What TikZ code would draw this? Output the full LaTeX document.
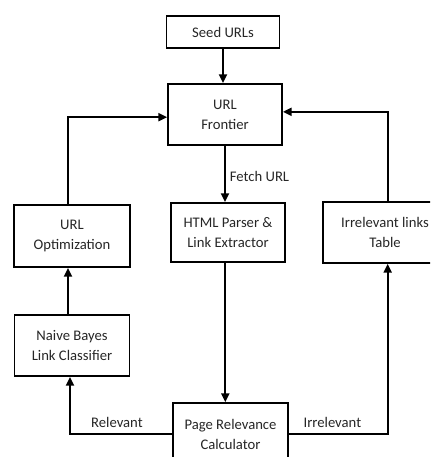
\documentclass[tikz,border=0pt]{standalone}
\usepackage{fontspec}
\setmainfont{Carlito}
\usetikzlibrary{arrows.meta}
\begin{document}
\begin{tikzpicture}[x=0.75pt,y=-0.75pt,
  box/.style={draw,line width=1.4pt,rectangle,align=center,inner sep=0pt,
    font=\fontsize{11}{15}\selectfont,text=black!85},
  conn/.style={line width=1.4pt,-{Triangle[length=6.5pt,width=6pt]}},
  lbl/.style={font=\fontsize{11}{15}\selectfont,text=black!85,inner sep=0pt}]
\useasboundingbox (0,0) rectangle (430,457);
\clip (0,0) rectangle (430,457);
\node[box,minimum width=113*0.75pt,minimum height=32*0.75pt] (seed) at (223,32) {Seed URLs};
\node[box,minimum width=114*0.75pt,minimum height=61*0.75pt] (front) at (225,114.5) {URL\\Frontier};
\node[box,minimum width=116*0.75pt,minimum height=62*0.75pt] (opt) at (72,236) {URL\\Optimization};
\node[box,minimum width=114*0.75pt,minimum height=59*0.75pt] (html) at (228,232.5) {HTML Parser \&\\Link Extractor};
\node[box,minimum width=124*0.75pt,minimum height=61*0.75pt] (irr) at (385,232.5) {Irrelevant links\\Table};
\node[box,minimum width=115*0.75pt,minimum height=61*0.75pt] (naive) at (72,345.5) {Naive Bayes\\Link Classifier};
\node[box,minimum width=115*0.75pt,minimum height=62*0.75pt] (page) at (230.5,434) {Page Relevance\\Calculator};

\draw[conn] (seed.south) -- (seed.south |- front.north);
\draw[conn] ([xshift=-3pt]opt.north) |- ([yshift=-2pt]front.west);
\draw[conn] ([xshift=2pt]irr.north) |- ([yshift=2pt]front.east);
\draw[conn] (front.south) -- (front.south |- html.north) node[lbl,midway,right=3pt,yshift=-2pt] {Fetch URL};
\draw[conn] ([xshift=-2pt]html.south) -- ([xshift=-2pt]html.south |- page.north);
\draw[conn] (page.west) -| ([xshift=-1.5pt]naive.south) node[lbl,pos=0.27,above=4pt] {Relevant};
\draw[conn] ([xshift=-3pt]naive.north) -- ([xshift=-3pt]opt.south);
\draw[conn] (page.east) -| ([xshift=2pt]irr.south) node[lbl,pos=0.22,above=4pt] {Irrelevant};
\end{tikzpicture}
\end{document}
